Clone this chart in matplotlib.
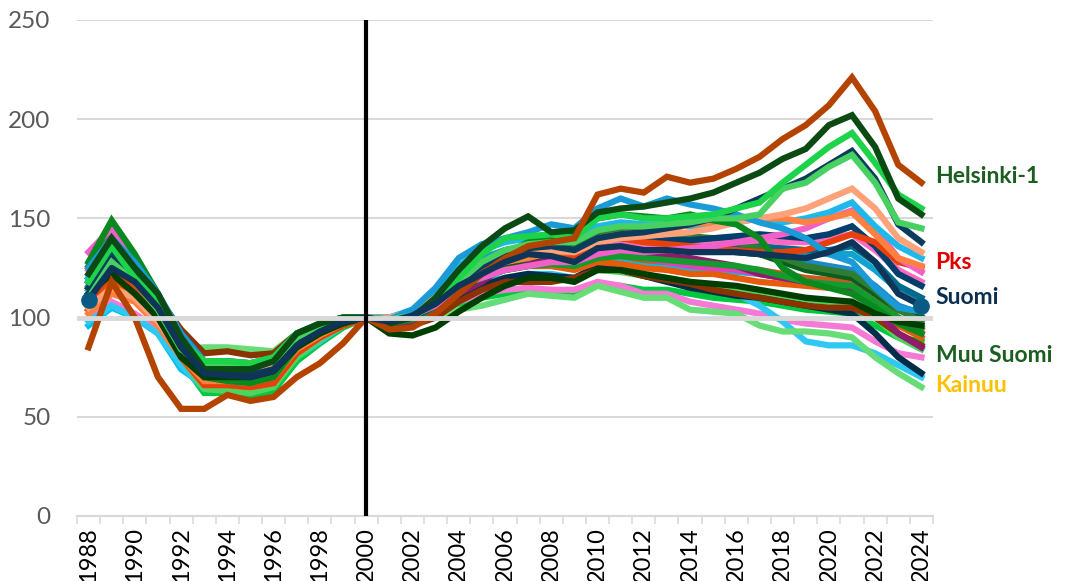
import numpy as np
import matplotlib
matplotlib.use("Agg")
import matplotlib.pyplot as plt
from matplotlib.ticker import FixedLocator

plt.rcParams['font.family'] = ['Lato', 'DejaVu Sans']

years = list(range(1988, 2025))

# index 2000 = 100
brown_top = [85, 118, 100, 70, 54, 54, 61, 58, 60, 70, 77, 87, 100, 94, 95, 102, 112, 122, 130, 136, 138, 140, 162, 165, 163, 171, 168, 170, 175, 181, 190, 197, 207, 221, 204, 177, 168]
helsinki1 = [122, 140, 125, 112, 90, 74, 74, 74, 78, 92, 97, 100, 100, 97, 100, 110, 124, 136, 145, 151, 143, 144, 153, 155, 156, 158, 160, 163, 168, 173, 180, 185, 197, 202, 186, 160, 152]
bright_green = [118, 136, 120, 108, 88, 78, 78, 77, 80, 92, 97, 100, 100, 98, 100, 108, 120, 132, 140, 141, 142, 140, 150, 152, 150, 150, 151, 152, 155, 158, 168, 177, 186, 193, 178, 162, 155]
mid_green = [110, 128, 118, 104, 84, 76, 76, 75, 78, 90, 96, 99, 100, 99, 101, 107, 118, 128, 134, 137, 138, 138, 144, 146, 146, 147, 148, 150, 150, 152, 165, 168, 176, 182, 168, 148, 145]
navy_top = [115, 130, 122, 108, 86, 72, 71, 71, 74, 88, 94, 99, 100, 98, 101, 108, 118, 126, 132, 135, 136, 134, 140, 142, 143, 145, 147, 150, 155, 160, 165, 170, 177, 184, 170, 147, 138]
salmon = [105, 115, 110, 98, 82, 76, 76, 75, 76, 88, 94, 98, 100, 100, 103, 110, 122, 128, 130, 132, 134, 133, 138, 140, 141, 142, 143, 145, 148, 150, 152, 155, 160, 165, 155, 140, 133]
orange = [102, 112, 108, 96, 80, 68, 68, 67, 70, 84, 91, 97, 100, 99, 102, 108, 118, 124, 128, 130, 133, 133, 140, 142, 143, 144, 147, 148, 150, 150, 150, 148, 150, 153, 142, 130, 126]
light_blue = [120, 138, 130, 112, 90, 70, 70, 70, 73, 88, 94, 99, 100, 100, 104, 112, 126, 134, 138, 140, 142, 141, 146, 148, 147, 147, 146, 147, 148, 150, 148, 150, 153, 158, 146, 136, 130]
pink = [133, 145, 126, 108, 84, 70, 70, 68, 72, 86, 93, 98, 100, 98, 101, 106, 116, 120, 124, 126, 128, 128, 132, 134, 133, 134, 135, 136, 138, 140, 142, 145, 150, 154, 145, 130, 123]
pks = [108, 122, 115, 102, 80, 66, 66, 65, 67, 82, 90, 96, 100, 99, 102, 108, 120, 126, 130, 132, 133, 131, 138, 140, 138, 137, 136, 135, 134, 133, 133, 134, 138, 142, 138, 128, 125]
blue_peak = [125, 140, 128, 112, 92, 78, 78, 77, 80, 92, 97, 100, 100, 99, 104, 115, 130, 137, 140, 143, 147, 145, 155, 160, 156, 160, 157, 155, 152, 148, 145, 140, 132, 128, 115, 105, 103]
green_peak = [128, 149, 132, 112, 88, 70, 68, 67, 70, 85, 92, 98, 100, 99, 101, 107, 118, 126, 132, 138, 140, 142, 150, 152, 151, 150, 152, 149, 147, 140, 125, 118, 115, 112, 105, 97, 92]
suomi = [109, 125, 118, 105, 85, 72, 71, 70, 73, 86, 93, 98, 100, 98, 101, 107, 116, 122, 128, 132, 131, 128, 135, 136, 134, 134, 133, 133, 133, 132, 131, 130, 133, 138, 128, 112, 106]
muu_suomi = [112, 122, 112, 100, 80, 70, 70, 70, 73, 85, 92, 97, 100, 92, 91, 95, 103, 110, 116, 120, 120, 118, 124, 124, 122, 120, 118, 117, 116, 114, 112, 110, 109, 108, 102, 98, 96]
kainuu = [110, 120, 110, 98, 84, 85, 85, 84, 83, 92, 96, 100, 100, 98, 98, 100, 104, 106, 109, 112, 111, 110, 116, 113, 110, 110, 104, 103, 102, 96, 93, 93, 92, 90, 80, 72, 65]
light_blue_low = [98, 106, 100, 92, 76, 64, 64, 63, 66, 80, 88, 96, 100, 100, 103, 108, 114, 118, 120, 122, 122, 120, 125, 124, 121, 119, 116, 114, 112, 106, 98, 88, 86, 86, 82, 76, 70]
pink_low = [100, 108, 102, 94, 78, 70, 70, 69, 72, 84, 91, 97, 100, 98, 99, 103, 108, 112, 114, 115, 114, 114, 118, 116, 112, 112, 108, 106, 104, 102, 99, 97, 96, 95, 88, 82, 80]
navy_low = [112, 128, 118, 104, 84, 70, 70, 70, 72, 86, 92, 98, 100, 97, 98, 102, 110, 116, 120, 122, 121, 120, 126, 124, 121, 118, 115, 113, 111, 110, 108, 106, 104, 102, 92, 80, 72]
purple = [115, 132, 120, 106, 86, 74, 73, 72, 75, 88, 94, 99, 100, 96, 98, 104, 112, 118, 126, 128, 130, 130, 135, 135, 133, 131, 130, 128, 126, 122, 120, 118, 116, 114, 104, 92, 85]
magenta = [118, 134, 122, 108, 88, 72, 71, 70, 73, 87, 94, 99, 100, 99, 101, 107, 118, 124, 128, 130, 131, 130, 134, 133, 130, 128, 126, 125, 124, 122, 120, 118, 117, 116, 108, 98, 92]
orange_dark = [104, 118, 112, 100, 80, 66, 66, 65, 67, 82, 90, 96, 100, 99, 101, 106, 114, 120, 124, 126, 126, 124, 128, 127, 125, 124, 122, 122, 120, 118, 117, 116, 115, 114, 106, 96, 90]
brown_dark = [104, 120, 120, 110, 94, 82, 83, 81, 82, 92, 97, 100, 100, 96, 96, 100, 108, 114, 118, 118, 118, 120, 124, 124, 121, 119, 117, 114, 112, 110, 108, 106, 105, 105, 100, 92, 86]
teal = [109, 128, 122, 110, 92, 78, 78, 77, 79, 90, 95, 99, 100, 99, 102, 110, 120, 128, 134, 136, 138, 137, 142, 143, 140, 139, 138, 137, 136, 136, 135, 134, 134, 136, 128, 116, 110]
green_mid = [115, 130, 120, 106, 86, 74, 73, 72, 75, 88, 94, 99, 100, 98, 100, 105, 114, 120, 124, 126, 127, 126, 130, 131, 130, 129, 128, 127, 126, 124, 121, 118, 117, 116, 108, 100, 95]
dark_green2 = [120, 135, 124, 110, 90, 76, 75, 74, 77, 90, 96, 100, 100, 97, 99, 104, 114, 120, 126, 130, 132, 132, 138, 137, 136, 136, 135, 134, 133, 132, 128, 124, 122, 120, 112, 104, 100]
green3 = [106, 116, 110, 98, 78, 62, 62, 60, 63, 78, 87, 95, 100, 99, 99, 101, 106, 110, 112, 114, 112, 111, 117, 116, 114, 114, 112, 110, 109, 108, 106, 104, 103, 102, 96, 90, 88]
sky = [96, 105, 100, 92, 74, 66, 66, 65, 68, 82, 89, 96, 100, 100, 102, 106, 114, 120, 124, 126, 126, 125, 130, 129, 127, 126, 125, 124, 123, 122, 120, 118, 116, 115, 110, 104, 100]
blue2 = [116, 134, 124, 110, 90, 74, 74, 73, 76, 89, 95, 99, 100, 100, 103, 110, 120, 126, 130, 132, 134, 133, 138, 139, 137, 136, 135, 134, 133, 132, 130, 128, 126, 124, 116, 106, 102]
hot_pink = [124, 140, 126, 110, 88, 70, 70, 69, 72, 86, 93, 98, 100, 99, 102, 109, 120, 126, 130, 132, 133, 132, 137, 138, 136, 136, 136, 137, 138, 139, 138, 138, 140, 142, 134, 124, 118]
cyan2 = [114, 130, 124, 108, 88, 68, 68, 67, 70, 85, 92, 98, 100, 100, 103, 110, 122, 130, 134, 136, 137, 136, 141, 141, 139, 138, 137, 136, 135, 135, 134, 133, 132, 132, 124, 114, 108]
burnt = [110, 124, 118, 104, 84, 68, 67, 66, 69, 83, 91, 97, 100, 98, 100, 106, 116, 122, 126, 128, 129, 128, 132, 131, 129, 128, 127, 126, 125, 124, 122, 120, 119, 118, 110, 100, 94]
deep_blue = [118, 134, 124, 110, 90, 76, 76, 75, 78, 90, 95, 99, 100, 98, 100, 106, 116, 124, 130, 134, 135, 134, 139, 140, 139, 139, 139, 140, 141, 142, 141, 140, 142, 146, 136, 122, 116]
olive_green = [126, 144, 128, 110, 86, 68, 68, 67, 70, 85, 92, 98, 100, 97, 99, 105, 116, 124, 130, 134, 136, 136, 142, 144, 143, 142, 141, 140, 138, 135, 130, 126, 124, 122, 114, 104, 98]
lime = [112, 124, 114, 100, 80, 64, 63, 62, 65, 80, 89, 96, 100, 99, 100, 104, 112, 116, 118, 120, 120, 119, 124, 123, 121, 120, 118, 116, 115, 113, 111, 109, 108, 108, 100, 90, 84]

series = [
    (sky, '#00BFEF'), (green3, '#00C840'), (pink_low, '#F47AD6'), (light_blue_low, '#2EC8F2'),
    (kainuu, '#66DD77'), (lime, '#4FD45F'), (navy_low, '#002E48'), (brown_dark, '#8A3300'),
    (orange_dark, '#E65C0A'), (burnt, '#C85A1A'), (magenta, '#E23FB8'), (purple, '#8E1B6E'),
    (green_mid, '#139B2E'), (blue2, '#1E88C8'), (cyan2, '#0FA3D0'), (dark_green2, '#0B5D1E'),
    (teal, '#006A8E'), (olive_green, '#2E7D32'), (hot_pink, '#FF69C4'), (deep_blue, '#003F6B'),
    (pks, '#E8400C'), (pink, '#F060C8'), (light_blue, '#1FB8EA'), (orange, '#FF8040'),
    (salmon, '#FFA27A'), (green_peak, '#0A8A1E'), (blue_peak, '#1A9AD6'), (muu_suomi, '#003D00'),
    (navy_top, '#0C3C5C'), (mid_green, '#46D160'), (bright_green, '#1DD34A'),
    (helsinki1, '#0B4A12'), (brown_top, '#B54300'),
]

labels = ['Helsinki-1', 'Pks', 'Suomi', 'Muu Suomi', 'Kainuu']
label_y = [171, 128, 110, 81, 66]
label_colors = ['#1B5E20', '#E00000', '#0D2F4F', '#1B5E20', '#FFC000']

fig = plt.figure(figsize=(10.75, 5.81), dpi=100)
ax = fig.add_axes([0.0716, 0.1119, 0.7963, 0.8537])

for vals, col in series:
    ax.plot(years, vals, color=col, lw=4.5, solid_joinstyle='miter', zorder=2)

# Suomi with end markers
ax.plot(years, suomi, color='#0E3558', lw=4.5, marker='o', markersize=11,
        markerfacecolor='#0B5A84', markeredgecolor='#0B5A84',
        markevery=[0, len(years) - 1], zorder=3)

# reference lines
ax.axhline(100, color='#D9D9D9', lw=3.5, zorder=4)
ax.axvline(2000, color='black', lw=3, zorder=5)

ax.set_xlim(1987.5, 2024.5)
ax.set_ylim(0, 250)
ax.set_yticks([0, 50, 100, 150, 200, 250])
ax.grid(axis='y', color='#D9D9D9', lw=1.5, zorder=0)
ax.set_axisbelow(True)

ax.set_xticks(list(range(1988, 2025, 2)))
ax.set_xticklabels([str(y) for y in range(1988, 2025, 2)], rotation=90)
ax.xaxis.set_minor_locator(FixedLocator(np.arange(1987.5, 2025, 1.0)))
ax.tick_params(axis='x', which='major', length=0, pad=8, labelsize=17, labelcolor='black')
ax.tick_params(axis='x', which='minor', length=6, width=1.2, color='#D9D9D9')
ax.tick_params(axis='y', length=0, pad=19, labelsize=17.5, labelcolor='#595959')

for s in ['top', 'right', 'left']:
    ax.spines[s].set_visible(False)
ax.spines['bottom'].set_color('#D9D9D9')
ax.spines['bottom'].set_linewidth(1.5)

trans = ax.get_yaxis_transform()
for txt, yv, col in zip(labels, label_y, label_colors):
    ax.text(1.003, yv, txt, transform=trans, color=col, fontsize=16.5,
            fontweight='bold', va='center', ha='left', clip_on=False)

fig.savefig('out.png', dpi=100)
